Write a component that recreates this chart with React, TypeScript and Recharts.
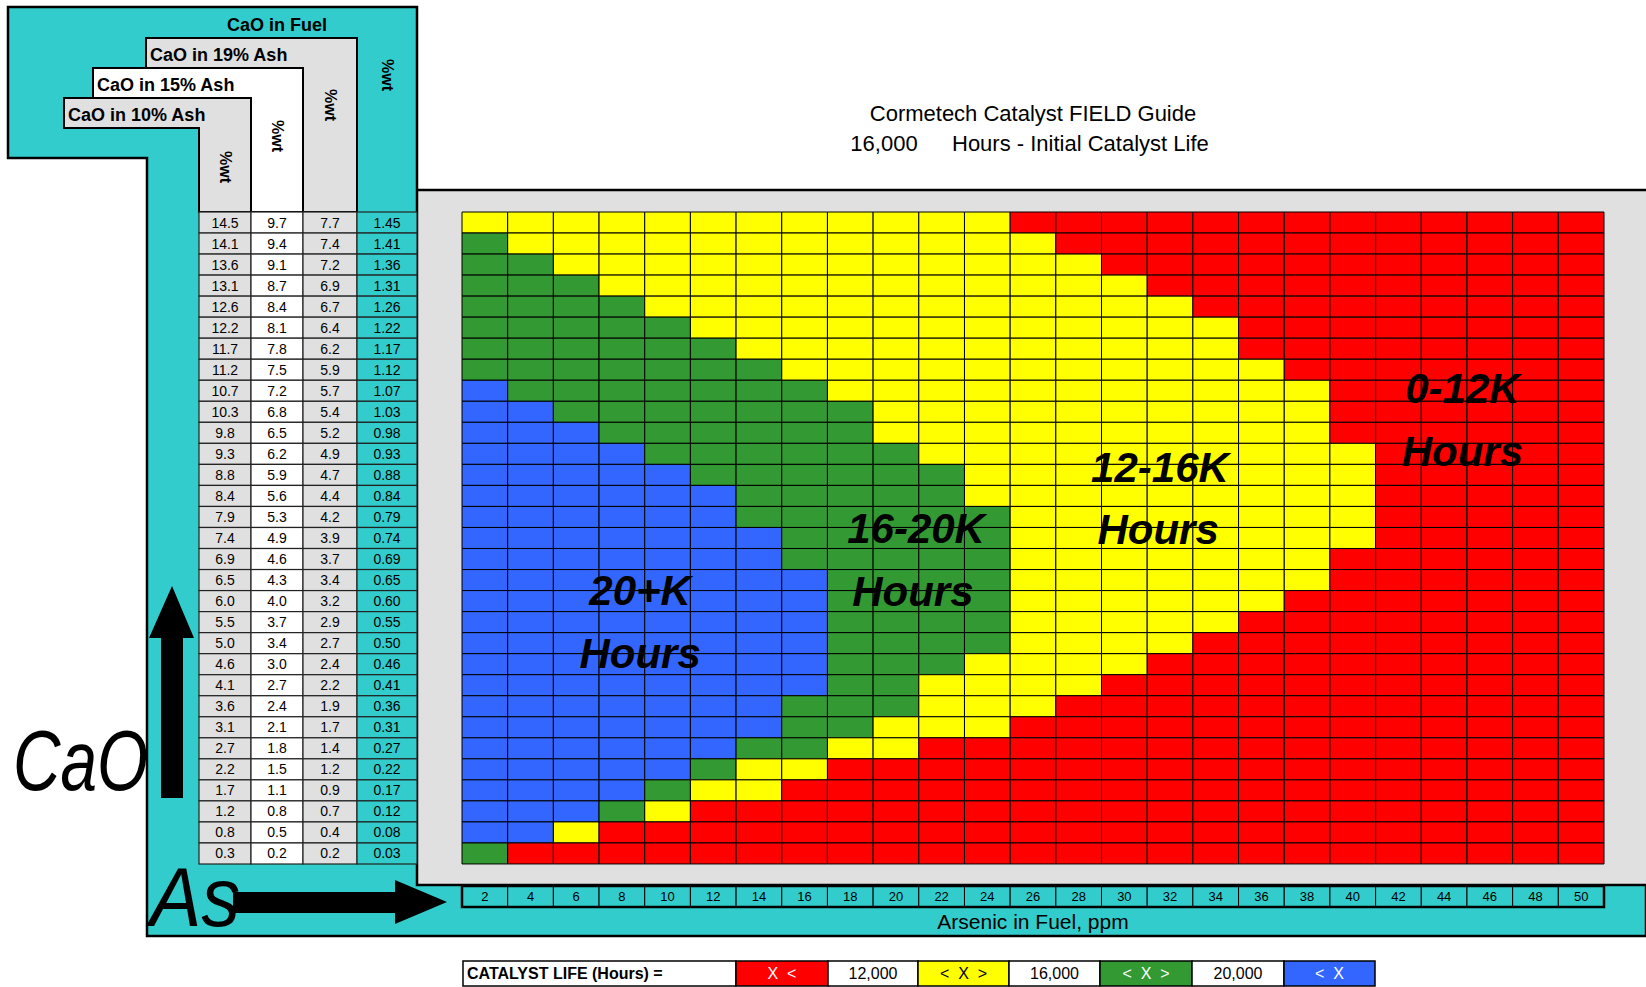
import React from "react";
import { BarChart, Bar, Cell, XAxis, YAxis, ReferenceDot, ReferenceArea } from "recharts";

// CaO rows, top to bottom
const CAO_FUEL = ["1.45", "1.41", "1.36", "1.31", "1.26", "1.22", "1.17", "1.12", "1.07", "1.03", "0.98", "0.93", "0.88", "0.84", "0.79", "0.74", "0.69", "0.65", "0.60", "0.55", "0.50", "0.46", "0.41", "0.36", "0.31", "0.27", "0.22", "0.17", "0.12", "0.08", "0.03"];
const CAO_19 = ["7.7", "7.4", "7.2", "6.9", "6.7", "6.4", "6.2", "5.9", "5.7", "5.4", "5.2", "4.9", "4.7", "4.4", "4.2", "3.9", "3.7", "3.4", "3.2", "2.9", "2.7", "2.4", "2.2", "1.9", "1.7", "1.4", "1.2", "0.9", "0.7", "0.4", "0.2"];
const CAO_15 = ["9.7", "9.4", "9.1", "8.7", "8.4", "8.1", "7.8", "7.5", "7.2", "6.8", "6.5", "6.2", "5.9", "5.6", "5.3", "4.9", "4.6", "4.3", "4.0", "3.7", "3.4", "3.0", "2.7", "2.4", "2.1", "1.8", "1.5", "1.1", "0.8", "0.5", "0.2"];
const CAO_10 = ["14.5", "14.1", "13.6", "13.1", "12.6", "12.2", "11.7", "11.2", "10.7", "10.3", "9.8", "9.3", "8.8", "8.4", "7.9", "7.4", "6.9", "6.5", "6.0", "5.5", "5.0", "4.6", "4.1", "3.6", "3.1", "2.7", "2.2", "1.7", "1.2", "0.8", "0.3"];

// arsenic columns, ppm
const ARSENIC = [2, 4, 6, 8, 10, 12, 14, 16, 18, 20, 22, 24, 26, 28, 30, 32, 34, 36, 38, 40, 42, 44, 46, 48, 50];

// per row: number of columns from the left that are blue / green / yellow (cumulative), rest red
const BLUE_END = [0, 0, 0, 0, 0, 0, 0, 0, 1, 2, 3, 4, 5, 6, 6, 7, 7, 8, 8, 8, 8, 8, 8, 7, 7, 6, 5, 4, 3, 2, 0];
const GREEN_END = [0, 1, 2, 3, 4, 5, 6, 7, 8, 9, 9, 10, 11, 11, 12, 12, 12, 12, 12, 12, 12, 11, 10, 10, 9, 8, 6, 5, 4, 2, 1];
const YELLOW_END = [12, 13, 14, 15, 16, 17, 17, 18, 19, 19, 19, 20, 20, 20, 20, 20, 19, 19, 18, 17, 16, 15, 14, 13, 12, 10, 8, 7, 5, 3, 1];

// region captions, in grid units (column from left, row from top)
const REGION_TEXT = ["20+K", "Hours", "16-20K", "Hours", "12-16K", "Hours", "0-12K", "Hours"];
const REGION_COL = [3.9, 3.9, 9.94, 9.87, 15.28, 15.24, 21.9, 21.9];
const REGION_ROW = [17.4, 20.3, 14.55, 17.45, 11.75, 14.6, 8.1, 11.0];

const LEGEND_TEXT = ["CATALYST LIFE (Hours) =", "X  <", "12,000", "<  X  >", "16,000", "<  X  >", "20,000", "<  X"];

const W = 1646;
const H = 987;
const FONT = "'Liberation Sans', Arial, Helvetica, sans-serif";
const YELLOW = "#FFFF00";
const RED = "#FF0000";
const GREEN = "#339933";
const BLUE = "#3366FF";
const CYAN = "#33CCCC";
const GRAY = "#E0E0E0";

const PLOT_L = 462;
const PLOT_T = 212;
const PLOT_R = 1604;
const PLOT_B = 864;
const COL_W = (PLOT_R - PLOT_L) / ARSENIC.length;
const ROW_H = (PLOT_B - PLOT_T) / CAO_FUEL.length;
const TICK_T = 886;
const NROWS = CAO_FUEL.length;

const LEGEND_EDGES = [463, 736, 828, 918, 1009, 1100, 1192, 1284, 1375];
const LEGEND_FILL = ["#fff", RED, "#fff", YELLOW, "#fff", GREEN, "#fff", BLUE];
const LEGEND_INK = ["#000", "#fff", "#000", "#000", "#000", "#fff", "#000", "#fff"];

const TABLE_COLS = [
  { x0: 199, x1: 251, fill: GRAY },
  { x0: 251, x1: 303, fill: "#fff" },
  { x0: 303, x1: 357, fill: GRAY },
  { x0: 357, x1: 417, fill: CYAN },
];

function cellColor(r: number, c: number) {
  if (c < BLUE_END[r]) return BLUE;
  if (c < GREEN_END[r]) return GREEN;
  if (c < YELLOW_END[r]) return YELLOW;
  return RED;
}

const rows = CAO_FUEL.map((cao) => {
  const o: Record<string, any> = { cao };
  ARSENIC.forEach((_, c) => {
    o["c" + c] = 1;
  });
  return o;
});

function TableTick(props: any) {
  const { y, payload } = props;
  const i = CAO_FUEL.indexOf(payload.value);
  const vals = [CAO_10[i], CAO_15[i], CAO_19[i], CAO_FUEL[i]];
  return (
    <g>
      {TABLE_COLS.map((col, k) => (
        <g key={k}>
          <rect x={col.x0} y={y - ROW_H / 2} width={col.x1 - col.x0} height={ROW_H} fill={col.fill} stroke="#222" strokeWidth={1.2} />
          <text x={(col.x0 + col.x1) / 2} y={y + 5} textAnchor="middle" fontSize={14} fontFamily={FONT} fill="#000">
            {vals[k]}
          </text>
        </g>
      ))}
    </g>
  );
}

function ArsenicTick(props: any) {
  const { x, payload } = props;
  const i = Math.floor(payload.value);
  return (
    <g>
      <rect x={x - COL_W / 2} y={TICK_T} width={COL_W} height={21} fill={CYAN} stroke="#000" strokeWidth={1} />
      <text x={x} y={TICK_T + 15} textAnchor="middle" fontSize={13} fontFamily={FONT} fill="#000">
        {ARSENIC[i]}
      </text>
    </g>
  );
}

function Background() {
  const hdr = { fontFamily: FONT, fontSize: 18, fontWeight: 700, fill: "#000" } as const;
  const wt = (cx: number, cy: number) => (
    <text transform={`translate(${cx},${cy}) rotate(90)`} textAnchor="middle" dominantBaseline="central" fontFamily={FONT} fontSize={16} fontWeight={700}>
      %wt
    </text>
  );
  return (
    <svg width={W} height={H} style={{ position: "absolute", left: 0, top: 0 }}>
      <rect x={417} y={190} width={W - 417} height={885 - 190} fill={GRAY} />
      <polygon points="8,7 417,7 417,885 1646,885 1646,936 147,936 147,158 8,158" fill={CYAN} stroke="#000" strokeWidth={2.5} />
      <line x1={417} y1={190} x2={W} y2={190} stroke="#000" strokeWidth={2.5} />
      <polygon points="146,38 357,38 357,212 303,212 303,68 146,68" fill={GRAY} stroke="#000" strokeWidth={2} />
      <polygon points="93,68 303,68 303,212 251,212 251,98 93,98" fill="#fff" stroke="#000" strokeWidth={2} />
      <polygon points="64,98 251,98 251,212 199,212 199,128 64,128" fill={GRAY} stroke="#000" strokeWidth={2} />
      <text x={277} y={31} textAnchor="middle" {...hdr}>CaO in Fuel</text>
      <text x={150} y={61} {...hdr}>CaO in 19% Ash</text>
      <text x={97} y={91} {...hdr}>CaO in 15% Ash</text>
      <text x={68} y={121} {...hdr}>CaO in 10% Ash</text>
      {wt(387, 75)}
      {wt(330, 105)}
      {wt(277, 136)}
      {wt(225, 167)}
    </svg>
  );
}

function Overlay() {
  return (
    <svg width={W} height={H} style={{ position: "absolute", left: 0, top: 0, pointerEvents: "none" }}>
      <text x={1033} y={121} textAnchor="middle" fontFamily={FONT} fontSize={22} fill="#000">
        Cormetech Catalyst FIELD Guide
      </text>
      <text x={884} y={151} textAnchor="middle" fontFamily={FONT} fontSize={22} fill="#000">16,000</text>
      <text x={952} y={151} fontFamily={FONT} fontSize={22} fill="#000">Hours - Initial Catalyst Life</text>

      <rect x={PLOT_L} y={TICK_T} width={PLOT_R - PLOT_L} height={21} fill="none" stroke="#000" strokeWidth={2.5} />

      <text x={13} y={790} fontFamily={FONT} fontSize={85} fontStyle="italic" textLength={135} lengthAdjust="spacingAndGlyphs" fill="#000">
        CaO
      </text>
      <polygon points="161,798 183,798 183,638 194,638 172,586 149,638 161,638" fill="#000" />
      <text x={150} y={926} fontFamily={FONT} fontSize={83} fontStyle="italic" textLength={90} lengthAdjust="spacingAndGlyphs" fill="#000">
        As
      </text>
      <polygon points="233,892 395,892 395,880 447,902 395,924 395,913 233,913" fill="#000" />

      {LEGEND_TEXT.map((t, i) => {
        const x0 = LEGEND_EDGES[i];
        const x1 = LEGEND_EDGES[i + 1];
        return (
          <g key={i}>
            <rect x={x0} y={961} width={x1 - x0} height={25} fill={LEGEND_FILL[i]} stroke="#000" strokeWidth={1.5} />
            <text
              x={i === 0 ? x0 + 4 : (x0 + x1) / 2}
              y={979}
              textAnchor={i === 0 ? "start" : "middle"}
              fontFamily={FONT}
              fontSize={16}
              fontWeight={i === 0 ? 700 : 400}
              fill={LEGEND_INK[i]}
              style={{ whiteSpace: "pre" }}
            >
              {t}
            </text>
          </g>
        );
      })}
    </svg>
  );
}

export default function App() {
  return (
    <div style={{ position: "absolute", left: 0, top: 0, width: W, height: H, background: "#fff", overflow: "hidden" }}>
      <Background />
      <div style={{ position: "absolute", left: 0, top: 0 }}>
        <BarChart
          width={W}
          height={H}
          data={rows}
          layout="vertical"
          margin={{ top: PLOT_T, right: W - PLOT_R, bottom: H - PLOT_B - 70, left: 0 }}
          barCategoryGap={0}
          barGap={0}
        >
          <XAxis
            type="number"
            domain={[0, ARSENIC.length]}
            ticks={ARSENIC.map((_, i) => i + 0.5)}
            tick={<ArsenicTick />}
            interval={0}
            axisLine={false}
            tickLine={false}
            height={70}
            label={{ value: "Arsenic in Fuel, ppm", position: "insideBottom", offset: 5, fontSize: 21, fontFamily: FONT, fill: "#000" }}
          />
          <YAxis
            yAxisId="cat"
            type="category"
            dataKey="cao"
            width={PLOT_L}
            tick={<TableTick />}
            interval={0}
            axisLine={false}
            tickLine={false}
          />
          {/* row units, 0 at the grid's top edge (vertical layout runs downward) */}
          <YAxis yAxisId="grid" type="number" domain={[0, NROWS]} allowDataOverflow hide />
          {ARSENIC.map((_, c) => (
            <Bar key={c} dataKey={"c" + c} stackId="g" yAxisId="cat" isAnimationActive={false} stroke="#000" strokeWidth={1}>
              {rows.map((_r, r) => (
                <Cell key={r} fill={cellColor(r, c)} />
              ))}
            </Bar>
          ))}
          <ReferenceArea
            x1={0}
            x2={ARSENIC.length}
            y1={0}
            y2={NROWS}
            yAxisId="grid"
            fill="none"
            stroke="#000"
            strokeWidth={3}
          />
          {REGION_TEXT.map((t, i) => (
            <ReferenceDot
              key={i}
              x={REGION_COL[i]}
              y={REGION_ROW[i]}
              yAxisId="grid"
              r={1}
              fill="none"
              stroke="none"
              label={{ value: t, position: "center", fontSize: 42, fontWeight: 700, fontStyle: "italic", fontFamily: FONT, fill: "#000" }}
            />
          ))}
        </BarChart>
      </div>
      <Overlay />
    </div>
  );
}
